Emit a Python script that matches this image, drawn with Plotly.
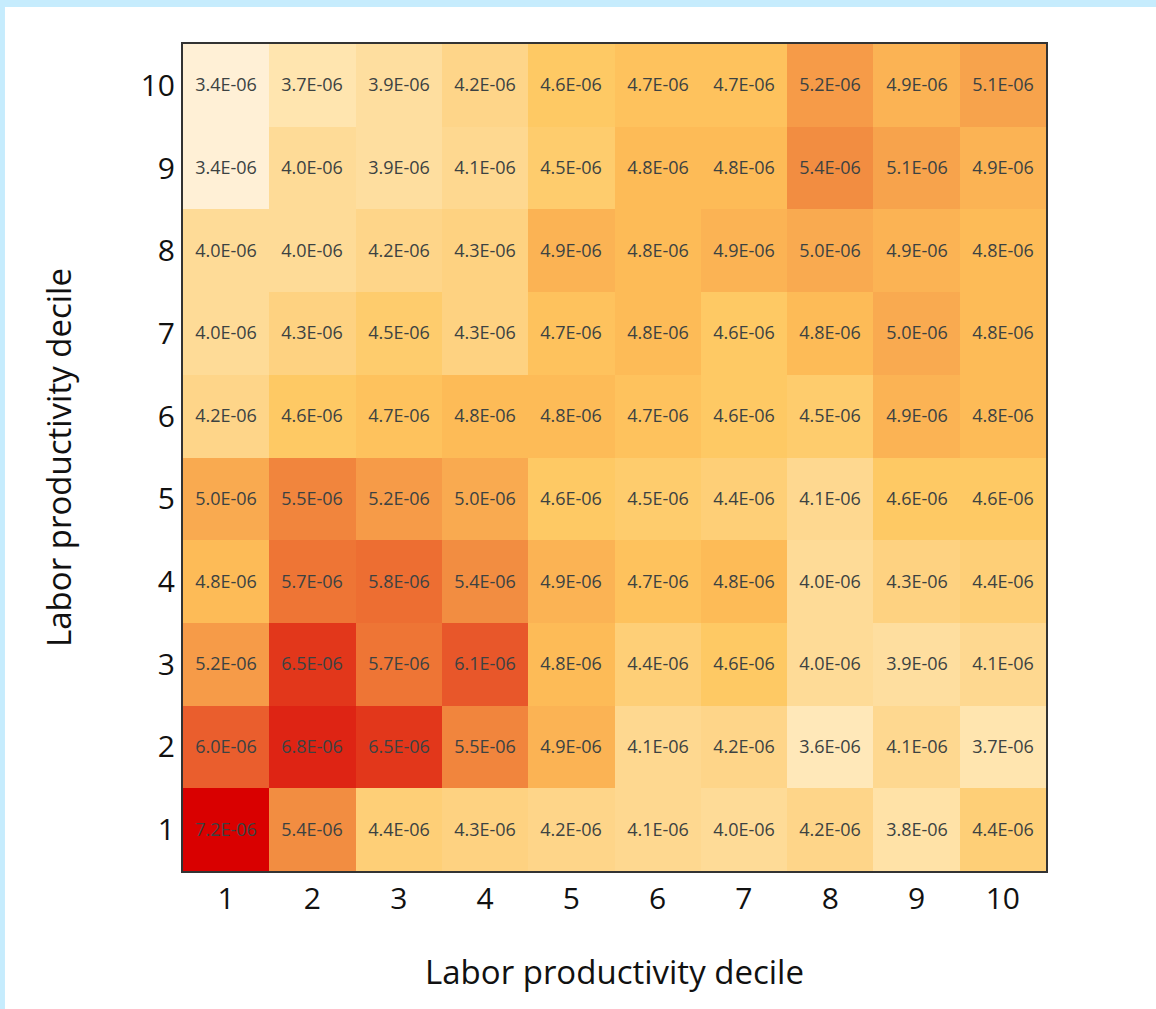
import plotly.graph_objects as go

# deciles on both axes
deciles = [1, 2, 3, 4, 5, 6, 7, 8, 9, 10]

# values in units of 1e-6, one row per y decile (1 at the bottom)
row_1 = [7.2, 5.4, 4.4, 4.3, 4.2, 4.1, 4.0, 4.2, 3.8, 4.4]
row_2 = [6.0, 6.8, 6.5, 5.5, 4.9, 4.1, 4.2, 3.6, 4.1, 3.7]
row_3 = [5.2, 6.5, 5.7, 6.1, 4.8, 4.4, 4.6, 4.0, 3.9, 4.1]
row_4 = [4.8, 5.7, 5.8, 5.4, 4.9, 4.7, 4.8, 4.0, 4.3, 4.4]
row_5 = [5.0, 5.5, 5.2, 5.0, 4.6, 4.5, 4.4, 4.1, 4.6, 4.6]
row_6 = [4.2, 4.6, 4.7, 4.8, 4.8, 4.7, 4.6, 4.5, 4.9, 4.8]
row_7 = [4.0, 4.3, 4.5, 4.3, 4.7, 4.8, 4.6, 4.8, 5.0, 4.8]
row_8 = [4.0, 4.0, 4.2, 4.3, 4.9, 4.8, 4.9, 5.0, 4.9, 4.8]
row_9 = [3.4, 4.0, 3.9, 4.1, 4.5, 4.8, 4.8, 5.4, 5.1, 4.9]
row_10 = [3.4, 3.7, 3.9, 4.2, 4.6, 4.7, 4.7, 5.2, 4.9, 5.1]

rows = [row_1, row_2, row_3, row_4, row_5, row_6, row_7, row_8, row_9, row_10]
z = [[v * 1e-6 for v in r] for r in rows]
labels = [[f"{v:.1f}E-06" for v in r] for r in rows]

colorscale = [
    [0.0, "#fff0d6"],
    [0.06, "#ffe7b5"],
    [0.16, "#fedb96"],
    [0.22, "#fed487"],
    [0.32, "#fec862"],
    [0.37, "#fdbb57"],
    [0.42, "#f9aa50"],
    [0.53, "#f28c40"],
    [0.61, "#ee7434"],
    [0.71, "#e8572a"],
    [0.82, "#e2361a"],
    [0.90, "#de2314"],
    [1.0, "#d90000"],
]

fig = go.Figure(go.Heatmap(
    x=deciles,
    y=deciles,
    z=z,
    text=labels,
    texttemplate="%{text}",
    textfont=dict(family="Open Sans, DejaVu Sans, sans-serif", size=18, color="#3c4242"),
    colorscale=colorscale,
    showscale=False,
    xgap=0,
    ygap=0,
    hoverinfo="skip",
))

tick_font = dict(family="Open Sans, Liberation Sans, sans-serif", size=30, color="#111111")
title_font = dict(family="Open Sans, Liberation Sans, sans-serif", size=33, color="#111111")

fig.update_xaxes(
    title=dict(text="Labor productivity decile", font=title_font, standoff=44),
    tickfont=tick_font,
    tickmode="array",
    tickvals=deciles,
    showline=True, linecolor="#333333", linewidth=2, mirror=True,
    showgrid=False, zeroline=False, ticks="",
)
fig.update_yaxes(
    title=dict(text="Labor productivity decile", font=title_font, standoff=59),
    tickfont=tick_font,
    tickmode="array",
    tickvals=deciles,
    showline=True, linecolor="#333333", linewidth=2, mirror=True,
    showgrid=False, zeroline=False, ticks="",
)

# light blue frame on the left and top of the picture
frame = "#c6ecfd"
fig.add_shape(type="rect", xref="paper", yref="paper",
              x0=-0.22, x1=-0.2063, y0=-0.2, y1=1.06,
              fillcolor=frame, line_width=0, layer="below")
fig.add_shape(type="rect", xref="paper", yref="paper",
              x0=-0.22, x1=1.14, y0=1.0447, y1=1.06,
              fillcolor=frame, line_width=0, layer="below")

fig.update_layout(
    width=1156,
    height=1009,
    margin=dict(l=183, r=110, t=44, b=138),
    plot_bgcolor="white",
    paper_bgcolor="white",
)

fig.write_html("out.html", config={"displayModeBar": False},
               post_script="document.body.style.margin='0';")
